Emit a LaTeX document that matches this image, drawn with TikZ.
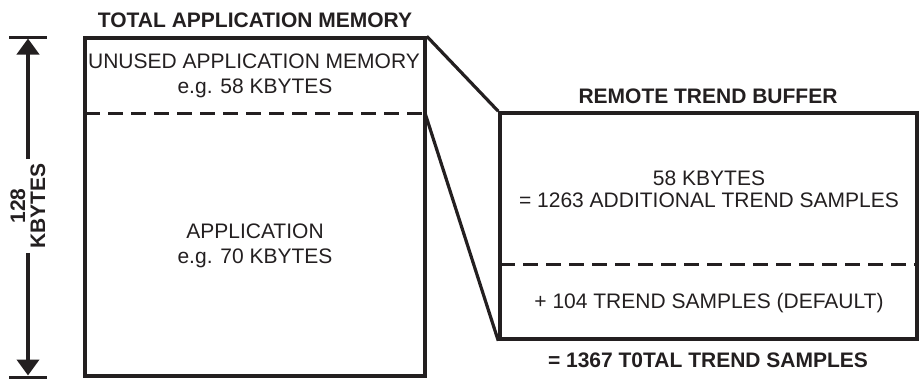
\documentclass[tikz,border=0pt]{standalone}
\usepackage{fontspec}
\setmainfont{Liberation Sans}
\usetikzlibrary{arrows.meta}
\definecolor{ink}{HTML}{231F20}
\begin{document}
\begin{tikzpicture}[x=1pt, y=-1pt,
  lbl/.style={font=\fontsize{21}{24}\selectfont, text=ink, inner sep=0pt, anchor=base},
  hdr/.style={lbl, font=\fontsize{21}{24}\selectfont\bfseries},
  frame/.style={draw=ink, line width=3.5pt, inner sep=0pt, miter limit=10},
  divider/.style={draw=ink, line width=3pt, dash pattern=on 15pt off 8pt},
  link/.style={draw=ink, line width=3.2pt},
  dimbar/.style={draw=ink, line width=3pt},
  dimarrow/.style={draw=ink, line width=4pt, -{Triangle[length=16pt,width=22pt]}}
]
\useasboundingbox (0,0) rectangle (923,378);

% memory block and trend buffer block
\node[frame, minimum width=340pt, minimum height=338pt] (mem) at (255,207) {};
\node[frame, minimum width=417pt, minimum height=226pt] (buf) at (708.5,226) {};

% dividers inside the blocks
\coordinate (memcutW) at (85,113);
\coordinate (memcutE) at (425,113);
\coordinate (bufcutW) at (500,264);
\coordinate (bufcutE) at (917,264);
\draw[divider] (memcutW) -- (memcutE);
\draw[divider] (bufcutW) -- (bufcutE);

% projection of the unused part onto the buffer
\draw[link] (mem.north east) -- (buf.north west);
\draw[link] (memcutE) -- (buf.south west);

% size dimension
\coordinate (barTL) at (9,37);
\coordinate (barTR) at (47,37);
\coordinate (barBL) at (9,377);
\coordinate (barBR) at (47,377);
\coordinate (tipT) at (28,38.5);
\coordinate (tipB) at (28,375.5);
\draw[dimbar] (barTL) -- (barTR);
\draw[dimbar] (barBL) -- (barBR);
\node[hdr, anchor=center, rotate=90, align=center, inner xsep=4pt, inner ysep=0pt] (span) at (28,206) {128\\[-4pt]KBYTES};
\draw[dimarrow] (span.east) -- (tipT);
\draw[dimarrow] (span.west) -- (tipB);

% labels
\node[hdr] (ttlmem) at (255,27) {TOTAL APPLICATION MEMORY};
\node[lbl] (unused1) at (254,68) {UNUSED APPLICATION MEMORY};
\node[lbl] (unused2) at (255,93) {e.g. 58 KBYTES};
\node[lbl] (app1) at (255,238) {APPLICATION};
\node[lbl] (app2) at (255,263) {e.g. 70 KBYTES};
\node[hdr] (ttlbuf) at (708,103) {REMOTE TREND BUFFER};
\node[lbl] (extra1) at (709,185) {58 KBYTES};
\node[lbl] (extra2) at (709,207) {= 1263 ADDITIONAL TREND SAMPLES};
\node[lbl] (dflt) at (709,308) {+ 104 TREND SAMPLES (DEFAULT)};
\node[hdr] (total) at (708,367) {= 1367 T0TAL TREND SAMPLES};
\end{tikzpicture}
\end{document}
